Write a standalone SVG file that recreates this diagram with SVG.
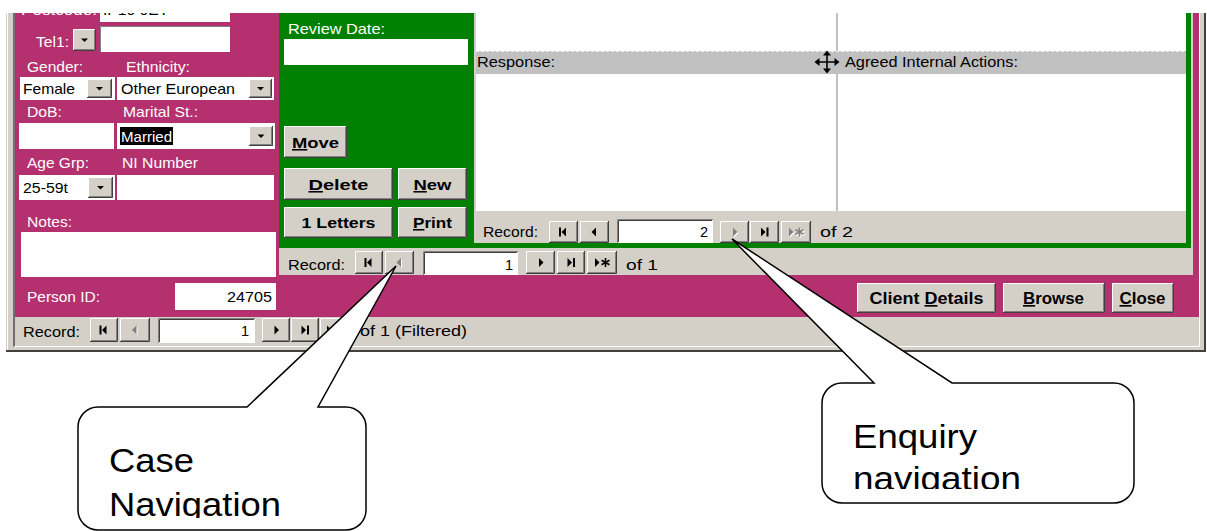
<svg xmlns="http://www.w3.org/2000/svg" width="1207" height="531" viewBox="0 0 1207 531">
<style>
text{font-family:'Liberation Sans',Arial,Helvetica,sans-serif}
.l{font-size:14.5px;fill:#fff}
.t{font-size:14.5px;fill:#000}
.b{font-size:15.5px;font-weight:bold;fill:#000;text-anchor:middle}
.b2{font-size:16.5px;font-weight:bold;fill:#000;text-anchor:middle}
.c{font-size:34px;fill:#000}
.face{fill:#d4d0c8}
.hi{fill:none;stroke:#fff}
.sh{fill:none;stroke:#404040}
.sh2{fill:none;stroke:#808080}
.box{fill:#fff}
.sk{fill:none;stroke:#808080}
.sk2{fill:none;stroke:#404040}
.ico{fill:#000;color:#000}
.dis{fill:#808080;color:#808080}
.dsh{fill:#fff;color:#fff}
.callout{fill:#fff;stroke:#000;stroke-width:1.5;stroke-linejoin:miter}
</style>
<defs>
<clipPath id="uiclip"><rect x="0" y="13" width="1207" height="340"/></clipPath>
<clipPath id="caseclip"><rect x="78" y="407" width="288" height="111"/></clipPath>
<clipPath id="enqclip"><rect x="822" y="383" width="312" height="106"/></clipPath>
<path id="i-first" d="M-4.5 -4.5h2v9h-2z M2.5 -4.5v9l-4.5 -4.5z"/>
<path id="i-prev" d="M1.5 -4.5v9l-4.5 -4.5z"/>
<path id="i-next" d="M-1.5 -4.5v9l4.5 -4.5z"/>
<path id="i-last" d="M-3.5 -4.5v9l4.5 -4.5z M2 -4.5h2v9h-2z"/>
<g id="i-new"><path d="M-7 -4.5v9l4.5 -4.5z"/><path d="M3.5 -4.5v9 M-0.5 -2.2l8 4.4 M-0.5 2.2l8 -4.4" stroke="currentColor" stroke-width="1.6" fill="none"/></g>
<path id="i-dd" d="M-3.5 -1.5h7l-3.5 3.5z"/>
</defs>

<g id="access-form" clip-path="url(#uiclip)">
  <!-- window frame -->
  <rect x="6" y="13" width="1200" height="339" class="face"/>
  <path d="M6 351H1206" stroke="#404040" stroke-width="2"/>
  <path d="M1205 13V352" stroke="#404040" stroke-width="2"/>
  <path d="M7.5 13V350" stroke="#fff"/>
  <path d="M14 13V347" stroke="#707070" stroke-width="2"/>
  <path d="M14 346.5H1199.5V13" stroke="#fff" fill="none"/>

  <!-- main form magenta -->
  <rect x="15" y="13" width="1184" height="304" fill="#b4306e"/>

  <!-- client fields -->
  <g id="client-fields">
    <text class="l" x="97" y="15" text-anchor="end" textLength="76" lengthAdjust="spacingAndGlyphs">Postcode:</text>
    <rect class="box" x="100" y="13" width="130" height="9"/>
    <text class="t" x="103" y="15" textLength="66" lengthAdjust="spacingAndGlyphs">IP10 0EY</text>

    <text class="l" x="36" y="47" textLength="33" lengthAdjust="spacingAndGlyphs">Tel1:</text>
    <rect class="face" x="73" y="29" width="23" height="22"/>
    <path class="hi" d="M73.5 50V29.5H95"/><path class="sh" d="M73 50.5H95.5V29"/><path class="sh2" d="M74 49.5H94.5V30"/>
    <use href="#i-dd" x="84.5" y="40" class="ico"/>
    <rect class="box" x="100" y="26" width="130" height="26"/>
    <path class="sk" d="M100.5 52V26.5H230"/>

    <text class="l" x="27" y="72" textLength="56" lengthAdjust="spacingAndGlyphs">Gender:</text>
    <text class="l" x="126" y="72" textLength="64" lengthAdjust="spacingAndGlyphs">Ethnicity:</text>
    <rect class="box" x="20" y="77" width="95" height="23"/>
    <text class="t" x="23" y="94" textLength="52" lengthAdjust="spacingAndGlyphs">Female</text>
    <rect class="face" x="87" y="79" width="25" height="19"/>
    <path class="hi" d="M87.5 97V79.5H111"/><path class="sh" d="M87 97.5H111.5V79"/><path class="sh2" d="M88 96.5H110.5V80"/>
    <use href="#i-dd" x="99.5" y="88.5" class="ico"/>
    <rect class="box" x="117" y="77" width="157" height="23"/>
    <text class="t" x="121" y="94" textLength="114" lengthAdjust="spacingAndGlyphs">Other European</text>
    <rect class="face" x="249" y="79" width="23" height="19"/>
    <path class="hi" d="M249.5 97V79.5H271"/><path class="sh" d="M249 97.5H271.5V79"/><path class="sh2" d="M250 96.5H270.5V80"/>
    <use href="#i-dd" x="260.5" y="88.5" class="ico"/>

    <text class="l" x="27" y="117" textLength="35" lengthAdjust="spacingAndGlyphs">DoB:</text>
    <text class="l" x="123" y="117" textLength="75" lengthAdjust="spacingAndGlyphs">Marital St.:</text>
    <rect class="box" x="19" y="123" width="95" height="26"/>
    <rect class="box" x="117" y="123" width="158" height="26"/>
    <rect x="120" y="127" width="53" height="18" fill="#000"/>
    <text class="t" x="121" y="142" textLength="51" lengthAdjust="spacingAndGlyphs" style="fill:#fff">Married</text>
    <rect class="face" x="249" y="126" width="24" height="20"/>
    <path class="hi" d="M249.5 145V126.5H272"/><path class="sh" d="M249 145.5H272.5V126"/><path class="sh2" d="M250 144.5H271.5V127"/>
    <use href="#i-dd" x="261" y="136" class="ico"/>

    <text class="l" x="27" y="168" textLength="62" lengthAdjust="spacingAndGlyphs">Age Grp:</text>
    <text class="l" x="122" y="168" textLength="76" lengthAdjust="spacingAndGlyphs">NI Number</text>
    <rect class="box" x="19" y="175" width="96" height="25"/>
    <text class="t" x="23" y="193" textLength="45" lengthAdjust="spacingAndGlyphs">25-59t</text>
    <rect class="face" x="88" y="177" width="25" height="21"/>
    <path class="hi" d="M88.5 197V177.5H112"/><path class="sh" d="M88 197.5H112.5V177"/><path class="sh2" d="M89 196.5H111.5V178"/>
    <use href="#i-dd" x="100.5" y="187.5" class="ico"/>
    <rect class="box" x="117" y="175" width="157" height="25"/>

    <text class="l" x="27" y="227" textLength="45" lengthAdjust="spacingAndGlyphs">Notes:</text>
    <rect class="box" x="21" y="232" width="255" height="45"/>

    <text class="l" x="27" y="302" textLength="73" lengthAdjust="spacingAndGlyphs">Person ID:</text>
    <rect class="box" x="175" y="283" width="101" height="27"/>
    <text class="t" x="272" y="302" text-anchor="end" textLength="45" lengthAdjust="spacingAndGlyphs">24705</text>
  </g>

  <!-- case subform -->
  <g id="case-subform">
    <rect x="279" y="13" width="914" height="262" class="face"/>
    <rect x="279" y="13" width="912" height="235" fill="#008000"/>
    <text class="l" x="288" y="34" textLength="97" lengthAdjust="spacingAndGlyphs">Review Date:</text>
    <rect class="box" x="284" y="39" width="184" height="26"/>

    <rect class="face" x="284" y="126" width="63" height="32"/>
    <path class="hi" d="M284.5 157V126.5H346"/><path class="sh" d="M284 157.5H346.5V126"/><path class="sh2" d="M285 156.5H345.5V127"/>
    <text class="b" x="315.5" y="148" textLength="47" lengthAdjust="spacingAndGlyphs"><tspan text-decoration="underline">M</tspan>ove</text>

    <rect class="face" x="284" y="168" width="109" height="32"/>
    <path class="hi" d="M284.5 199V168.5H392"/><path class="sh" d="M284 199.5H392.5V168"/><path class="sh2" d="M285 198.5H391.5V169"/>
    <text class="b" x="338.5" y="190" textLength="60" lengthAdjust="spacingAndGlyphs"><tspan text-decoration="underline">D</tspan>elete</text>

    <rect class="face" x="398" y="168" width="69" height="32"/>
    <path class="hi" d="M398.5 199V168.5H466"/><path class="sh" d="M398 199.5H466.5V168"/><path class="sh2" d="M399 198.5H465.5V169"/>
    <text class="b" x="432.5" y="190" textLength="38" lengthAdjust="spacingAndGlyphs"><tspan text-decoration="underline">N</tspan>ew</text>

    <rect class="face" x="284" y="207" width="109" height="31"/>
    <path class="hi" d="M284.5 237V207.5H392"/><path class="sh" d="M284 237.5H392.5V207"/><path class="sh2" d="M285 236.5H391.5V208"/>
    <text class="b" x="338.5" y="228" textLength="74" lengthAdjust="spacingAndGlyphs">1 Letters</text>

    <rect class="face" x="398" y="207" width="69" height="31"/>
    <path class="hi" d="M398.5 237V207.5H466"/><path class="sh" d="M398 237.5H466.5V207"/><path class="sh2" d="M399 236.5H465.5V208"/>
    <text class="b" x="432.5" y="228" textLength="39" lengthAdjust="spacingAndGlyphs"><tspan text-decoration="underline">P</tspan>rint</text>
  </g>

  <!-- enquiry subform -->
  <g id="enquiry-subform">
    <rect x="474" y="13" width="712" height="230" class="face"/>
    <rect x="476" y="13" width="710" height="198" fill="#fff"/>
    <rect x="476" y="51" width="710" height="23" fill="#c0c0c0"/>
    <path d="M476 51.5H1186" stroke="#f0f0f0" stroke-dasharray="3 2"/>
    <path d="M837 13V51 M837 74V211" stroke="#c0c0c0" stroke-width="2"/>
    <text class="t" x="477" y="67" textLength="78" lengthAdjust="spacingAndGlyphs">Response:</text>
    <text class="t" x="845" y="67" textLength="173" lengthAdjust="spacingAndGlyphs">Agreed Internal Actions:</text>
    <path d="M827 50.5l-4 5h8z M827 73.5l-4 -5h8z M814.5 62l5 -4v8z M839.5 62l-5 -4v8z" fill="#000"/>
    <path d="M827 54V70 M818 62H836" stroke="#000" stroke-width="1.6"/>
  </g>

  <!-- enquiry navigation bar -->
  <g id="enquiry-nav">
    <text class="t" x="483" y="237" textLength="55" lengthAdjust="spacingAndGlyphs">Record:</text>
    <rect class="face" x="549" y="221" width="29" height="22"/>
    <path class="hi" d="M549.5 242V221.5H577"/><path class="sh" d="M549 242.5H577.5V221"/><path class="sh2" d="M550 241.5H576.5V222"/>
    <use href="#i-first" x="563.5" y="232" class="ico"/>
    <rect class="face" x="580" y="221" width="29" height="22"/>
    <path class="hi" d="M580.5 242V221.5H608"/><path class="sh" d="M580 242.5H608.5V221"/><path class="sh2" d="M581 241.5H607.5V222"/>
    <use href="#i-prev" x="594.5" y="232" class="ico"/>
    <rect class="box" x="617" y="219" width="96" height="24"/>
    <path class="sk" d="M617.5 243V219.5H713"/><path class="sk2" d="M618.5 242V220.5H712"/>
    <text class="t" x="708" y="237" text-anchor="end">2</text>
    <rect class="face" x="720" y="221" width="29" height="22"/>
    <path class="hi" d="M720.5 242V221.5H748"/><path class="sh" d="M720 242.5H748.5V221"/><path class="sh2" d="M721 241.5H747.5V222"/>
    <use href="#i-next" x="735.5" y="233" class="dsh"/>
    <use href="#i-next" x="734.5" y="232" class="dis"/>
    <rect class="face" x="750" y="221" width="29" height="22"/>
    <path class="hi" d="M750.5 242V221.5H778"/><path class="sh" d="M750 242.5H778.5V221"/><path class="sh2" d="M751 241.5H777.5V222"/>
    <use href="#i-last" x="764.5" y="232" class="ico"/>
    <rect class="face" x="781" y="221" width="30" height="22"/>
    <path class="hi" d="M781.5 242V221.5H810"/><path class="sh" d="M781 242.5H810.5V221"/><path class="sh2" d="M782 241.5H809.5V222"/>
    <use href="#i-new" x="797" y="233" class="dsh"/>
    <use href="#i-new" x="796" y="232" class="dis"/>
    <text class="t" x="820" y="237" textLength="33" lengthAdjust="spacingAndGlyphs">of 2</text>
  </g>

  <!-- case navigation bar -->
  <g id="case-nav">
    <text class="t" x="288" y="270" textLength="57" lengthAdjust="spacingAndGlyphs">Record:</text>
    <rect class="face" x="355" y="251" width="28" height="23"/>
    <path class="hi" d="M355.5 273V251.5H382"/><path class="sh" d="M355 273.5H382.5V251"/><path class="sh2" d="M356 272.5H381.5V252"/>
    <use href="#i-first" x="369" y="262.5" class="ico"/>
    <rect class="face" x="385" y="251" width="29" height="23"/>
    <path class="hi" d="M385.5 273V251.5H413"/><path class="sh" d="M385 273.5H413.5V251"/><path class="sh2" d="M386 272.5H412.5V252"/>
    <use href="#i-prev" x="400.5" y="263.5" class="dsh"/>
    <use href="#i-prev" x="399.5" y="262.5" class="dis"/>
    <rect class="box" x="423" y="251" width="95" height="24"/>
    <path class="sk" d="M423.5 275V251.5H518"/><path class="sk2" d="M424.5 274V252.5H517"/>
    <text class="t" x="513" y="270" text-anchor="end">1</text>
    <rect class="face" x="526" y="251" width="29" height="23"/>
    <path class="hi" d="M526.5 273V251.5H554"/><path class="sh" d="M526 273.5H554.5V251"/><path class="sh2" d="M527 272.5H553.5V252"/>
    <use href="#i-next" x="540.5" y="262.5" class="ico"/>
    <rect class="face" x="557" y="251" width="28" height="23"/>
    <path class="hi" d="M557.5 273V251.5H584"/><path class="sh" d="M557 273.5H584.5V251"/><path class="sh2" d="M558 272.5H583.5V252"/>
    <use href="#i-last" x="571" y="262.5" class="ico"/>
    <rect class="face" x="587" y="251" width="30" height="23"/>
    <path class="hi" d="M587.5 273V251.5H616"/><path class="sh" d="M587 273.5H616.5V251"/><path class="sh2" d="M588 272.5H615.5V252"/>
    <use href="#i-new" x="602" y="262.5" class="ico"/>
    <text class="t" x="626" y="270" textLength="32" lengthAdjust="spacingAndGlyphs">of 1</text>
  </g>

  <!-- form buttons -->
  <g id="form-buttons">
    <rect class="face" x="857" y="283" width="139" height="30"/>
    <path class="hi" d="M857.5 312V283.5H995"/><path class="sh" d="M857 312.5H995.5V283"/><path class="sh2" d="M858 311.5H994.5V284"/>
    <text class="b2" x="926.5" y="304" textLength="114" lengthAdjust="spacingAndGlyphs">Client <tspan text-decoration="underline">D</tspan>etails</text>
    <rect class="face" x="1003" y="283" width="102" height="30"/>
    <path class="hi" d="M1003.5 312V283.5H1104"/><path class="sh" d="M1003 312.5H1104.5V283"/><path class="sh2" d="M1004 311.5H1103.5V284"/>
    <text class="b2" x="1053.5" y="304" textLength="61" lengthAdjust="spacingAndGlyphs"><tspan text-decoration="underline">B</tspan>rowse</text>
    <rect class="face" x="1112" y="283" width="62" height="30"/>
    <path class="hi" d="M1112.5 312V283.5H1173"/><path class="sh" d="M1112 312.5H1173.5V283"/><path class="sh2" d="M1113 311.5H1172.5V284"/>
    <text class="b2" x="1142.5" y="304" textLength="46" lengthAdjust="spacingAndGlyphs"><tspan text-decoration="underline">C</tspan>lose</text>
  </g>

  <!-- main navigation bar -->
  <g id="main-nav">
    <text class="t" x="23" y="337" textLength="57" lengthAdjust="spacingAndGlyphs">Record:</text>
    <rect class="face" x="90" y="318" width="28" height="24"/>
    <path class="hi" d="M90.5 341V318.5H117"/><path class="sh" d="M90 341.5H117.5V318"/><path class="sh2" d="M91 340.5H116.5V319"/>
    <use href="#i-first" x="104" y="330" class="ico"/>
    <rect class="face" x="120" y="318" width="30" height="24"/>
    <path class="hi" d="M120.5 341V318.5H149"/><path class="sh" d="M120 341.5H149.5V318"/><path class="sh2" d="M121 340.5H148.5V319"/>
    <use href="#i-prev" x="136" y="331" class="dsh"/>
    <use href="#i-prev" x="135" y="330" class="dis"/>
    <rect class="box" x="158" y="318" width="97" height="25"/>
    <path class="sk" d="M158.5 343V318.5H255"/><path class="sk2" d="M159.5 342V319.5H254"/>
    <text class="t" x="249" y="336" text-anchor="end">1</text>
    <rect class="face" x="262" y="318" width="28" height="24"/>
    <path class="hi" d="M262.5 341V318.5H289"/><path class="sh" d="M262 341.5H289.5V318"/><path class="sh2" d="M263 340.5H288.5V319"/>
    <use href="#i-next" x="276" y="330" class="ico"/>
    <rect class="face" x="291" y="318" width="28" height="24"/>
    <path class="hi" d="M291.5 341V318.5H318"/><path class="sh" d="M291 341.5H318.5V318"/><path class="sh2" d="M292 340.5H317.5V319"/>
    <use href="#i-last" x="305" y="330" class="ico"/>
    <rect class="face" x="320" y="318" width="28" height="24"/>
    <path class="hi" d="M320.5 341V318.5H347"/><path class="sh" d="M320 341.5H347.5V318"/><path class="sh2" d="M321 340.5H346.5V319"/>
    <use href="#i-new" x="334" y="330" class="ico"/>
    <text class="t" x="360" y="336" textLength="107" lengthAdjust="spacingAndGlyphs">of 1 (Filtered)</text>
  </g>
</g>

<g id="case-navigation-callout">
  <path class="callout" d="M98 407H247L396 266L318 407H346A20 20 0 0 1 366 427V510A20 20 0 0 1 346 530H98A20 20 0 0 1 78 510V427A20 20 0 0 1 98 407Z"/>
  <g clip-path="url(#caseclip)">
    <text class="c" x="109" y="472" textLength="85" lengthAdjust="spacingAndGlyphs">Case</text>
    <text class="c" x="109" y="516" textLength="172" lengthAdjust="spacingAndGlyphs">Navigation</text>
  </g>
</g>

<g id="enquiry-navigation-callout">
  <path class="callout" d="M842 383H874L732 239L952 383H1114A20 20 0 0 1 1134 403V483A20 20 0 0 1 1114 503H842A20 20 0 0 1 822 483V403A20 20 0 0 1 842 383Z"/>
  <g clip-path="url(#enqclip)">
    <text class="c" x="853" y="448" textLength="124" lengthAdjust="spacingAndGlyphs">Enquiry</text>
    <text class="c" x="853" y="490" textLength="168" lengthAdjust="spacingAndGlyphs">navigation</text>
  </g>
</g>

<g id="connectors"/>
</svg>
